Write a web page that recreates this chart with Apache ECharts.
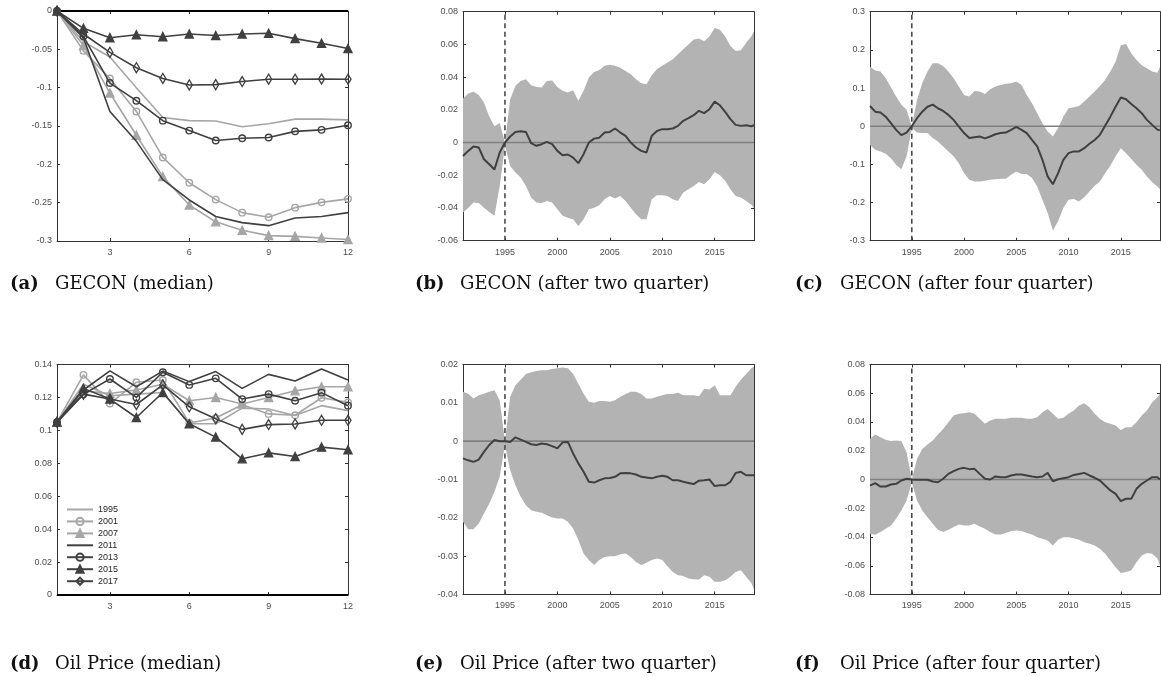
<!DOCTYPE html>
<html>
<head>
<meta charset="utf-8">
<script src="https://cdn.jsdelivr.net/npm/echarts@6/dist/echarts.min.js"></script>
<style>
  html, body { margin: 0; padding: 0; background: #ffffff; }
  #chart { width: 1161px; height: 676px; }
</style>
</head>
<body>
<div id="chart"></div>
<script>
// ---------- impulse-response medians by vintage (horizon 1..12) ----------
var horizons = [1, 2, 3, 4, 5, 6, 7, 8, 9, 10, 11, 12];
var vintages = ['1995', '2001', '2007', '2011', '2013', '2015', '2017'];

var gecon1995 = [0, -0.040, -0.060, -0.100, -0.139, -0.143, -0.1435, -0.151, -0.147, -0.141, -0.141, -0.142];
var gecon2001 = [0, -0.052, -0.088, -0.131, -0.191, -0.224, -0.246, -0.263, -0.269, -0.2565, -0.2496, -0.245];
var gecon2007 = [0, -0.045, -0.107, -0.162, -0.216, -0.253, -0.275, -0.286, -0.293, -0.294, -0.296, -0.298];
var gecon2011 = [0, -0.035, -0.131, -0.170, -0.220, -0.2465, -0.268, -0.276, -0.280, -0.270, -0.268, -0.263];
var gecon2013 = [0, -0.033, -0.094, -0.117, -0.143, -0.156, -0.169, -0.166, -0.165, -0.157, -0.155, -0.149];
var gecon2015 = [0, -0.0226, -0.0348, -0.031, -0.0335, -0.030, -0.032, -0.030, -0.029, -0.036, -0.042, -0.049];
var gecon2017 = [0, -0.030, -0.054, -0.074, -0.088, -0.0965, -0.096, -0.092, -0.089, -0.089, -0.0887, -0.089];

var oil1995 = [0.105, 0.128, 0.121, 0.122, 0.123, 0.104, 0.104, 0.1135, 0.113, 0.109, 0.115, 0.112];
var oil2001 = [0.105, 0.1337, 0.1163, 0.1292, 0.1306, 0.1045, 0.1075, 0.1155, 0.110, 0.1092, 0.1198, 0.117];
var oil2007 = [0.105, 0.124, 0.1224, 0.1245, 0.128, 0.118, 0.120, 0.116, 0.120, 0.124, 0.1265, 0.1265];
var oil2011 = [0.105, 0.1245, 0.1361, 0.1265, 0.136, 0.1296, 0.1357, 0.1255, 0.134, 0.130, 0.1373, 0.1306];
var oil2013 = [0.105, 0.122, 0.1312, 0.120, 0.1353, 0.1276, 0.1316, 0.119, 0.122, 0.118, 0.1229, 0.115];
var oil2015 = [0.105, 0.1255, 0.119, 0.1078, 0.123, 0.104, 0.0959, 0.0827, 0.0863, 0.0841, 0.0898, 0.0882];
var oil2017 = [0.105, 0.122, 0.119, 0.1157, 0.1276, 0.1143, 0.1071, 0.1006, 0.1035, 0.1039, 0.1061, 0.1061];

var horizonTicks = [3, 6, 9, 12];

// ---------- time-varying responses with credible bands ----------
var years = [
  1991, 1991.5, 1992, 1992.5, 1993, 1993.5, 1994, 1994.5, 1995, 1995.5,
  1996, 1996.5, 1997, 1997.5, 1998, 1998.5, 1999, 1999.5, 2000, 2000.5,
  2001, 2001.5, 2002, 2002.5, 2003, 2003.5, 2004, 2004.5, 2005, 2005.5,
  2006, 2006.5, 2007, 2007.5, 2008, 2008.5, 2009, 2009.5, 2010, 2010.5,
  2011, 2011.5, 2012, 2012.5, 2013, 2013.5, 2014, 2014.5, 2015, 2015.5,
  2016, 2016.5, 2017, 2017.5, 2018, 2018.5, 2018.75
];
var yearTicks = [1995, 2000, 2005, 2010, 2015];
var breakYear = 1995;

// GECON, two quarters ahead
var geconQ2Upper = [
  0.027, 0.030, 0.031, 0.029, 0.0245, 0.016, 0.010, 0.012, 0.000, 0.0265,
  0.0347, 0.0377, 0.0387, 0.035, 0.034, 0.0336, 0.0377, 0.038, 0.034, 0.0316,
  0.0306, 0.032, 0.0255, 0.0316, 0.0397, 0.0432, 0.0444, 0.0469, 0.0475, 0.047,
  0.0457, 0.0438, 0.0418, 0.0387, 0.0363, 0.0357, 0.0412, 0.0449, 0.0469, 0.049,
  0.051, 0.054, 0.057, 0.060, 0.063, 0.0636, 0.062, 0.0648, 0.070, 0.069,
  0.065, 0.059, 0.056, 0.0564, 0.061, 0.065, 0.068
];
var geconQ2Lower = [
  -0.0428, -0.040, -0.0367, -0.037, -0.0398, -0.0424, -0.0448, -0.0265, -0.002, -0.0143,
  -0.0183, -0.0214, -0.0265, -0.0336, -0.0367, -0.037, -0.0357, -0.0367, -0.0408, -0.0448,
  -0.0459, -0.0469, -0.051, -0.0469, -0.0408, -0.0398, -0.0383, -0.0347, -0.0326, -0.0342,
  -0.0326, -0.0357, -0.0398, -0.0438, -0.0469, -0.0469, -0.0347, -0.0322, -0.0322, -0.0326,
  -0.0347, -0.0357, -0.0306, -0.0285, -0.0265, -0.0241, -0.0255, -0.0224, -0.018, -0.020,
  -0.0234, -0.0285, -0.0326, -0.0336, -0.0357, -0.038, -0.040
];
var geconQ2Median = [
  -0.0082, -0.0051, -0.0024, -0.003, -0.0102, -0.0133, -0.0165, -0.0061, 0, 0.0037,
  0.0065, 0.0069, 0.0065, -0.0004, -0.002, -0.001, 0.0004, -0.001, -0.0051, -0.0077,
  -0.0073, -0.0092, -0.0126, -0.0071, 0, 0.0024, 0.003, 0.0061, 0.0065, 0.0086,
  0.0061, 0.0041, 0, -0.003, -0.0051, -0.0061, 0.0041, 0.0071, 0.0082, 0.0082,
  0.0086, 0.0102, 0.0133, 0.0149, 0.0167, 0.0194, 0.018, 0.0204, 0.025, 0.0228,
  0.0188, 0.0143, 0.0108, 0.0102, 0.0106, 0.0100, 0.0106
];

// GECON, four quarters ahead
var geconQ4Upper = [
  0.156, 0.146, 0.143, 0.1255, 0.102, 0.0776, 0.056, 0.043, 0.000, 0.069,
  0.1125, 0.143, 0.165, 0.165, 0.158, 0.143, 0.1255, 0.104, 0.082, 0.0776,
  0.0924, 0.0907, 0.0846, 0.0968, 0.104, 0.108, 0.111, 0.1125, 0.117, 0.108,
  0.082, 0.060, 0.034, 0.0078, -0.014, -0.027, -0.005, 0.025, 0.047, 0.0497,
  0.053, 0.0645, 0.0776, 0.0907, 0.1055, 0.121, 0.143, 0.169, 0.212, 0.2155,
  0.191, 0.1735, 0.160, 0.152, 0.143, 0.140, 0.156
];
var geconQ4Lower = [
  -0.049, -0.062, -0.066, -0.072, -0.084, -0.101, -0.1125, -0.079, -0.005, -0.0166,
  -0.018, -0.018, -0.031, -0.040, -0.053, -0.066, -0.079, -0.097, -0.123, -0.140,
  -0.145, -0.145, -0.143, -0.140, -0.139, -0.138, -0.138, -0.127, -0.1186, -0.125,
  -0.125, -0.136, -0.158, -0.193, -0.2275, -0.273, -0.249, -0.2145, -0.193, -0.191,
  -0.197, -0.186, -0.171, -0.156, -0.1447, -0.123, -0.1037, -0.079, -0.0575, -0.0706,
  -0.086, -0.101, -0.114, -0.1316, -0.147, -0.158, -0.165
];
var geconQ4Median = [
  0.053, 0.038, 0.036, 0.025, 0.0078, -0.0096, -0.0235, -0.0166, 0, 0.021,
  0.038, 0.051, 0.0567, 0.047, 0.040, 0.0296, 0.0166, -0.001, -0.018, -0.031,
  -0.0288, -0.027, -0.032, -0.027, -0.021, -0.018, -0.0166, -0.0096, -0.002, -0.0096,
  -0.018, -0.036, -0.053, -0.088, -0.1316, -0.152, -0.123, -0.088, -0.0706, -0.066,
  -0.066, -0.0575, -0.046, -0.036, -0.0227, 0.001, 0.025, 0.051, 0.075, 0.0706,
  0.058, 0.047, 0.034, 0.0166, 0.0035, -0.009, -0.011
];

// Oil price, two quarters ahead
var oilQ2Upper = [
  0.0129, 0.0124, 0.0111, 0.012, 0.0124, 0.0129, 0.0133, 0.0107, 0.000, 0.0116,
  0.0146, 0.016, 0.0175, 0.018, 0.0183, 0.0185, 0.0185, 0.0188, 0.019, 0.0192,
  0.019, 0.0175, 0.015, 0.0124, 0.0103, 0.010, 0.0105, 0.0105, 0.0103, 0.0107,
  0.0116, 0.0123, 0.0129, 0.0129, 0.0123, 0.0111, 0.0111, 0.0116, 0.012, 0.0123,
  0.0123, 0.0126, 0.012, 0.012, 0.012, 0.0117, 0.0137, 0.0135, 0.0146, 0.012,
  0.012, 0.012, 0.0142, 0.016, 0.0175, 0.019, 0.0195
];
var oilQ2Lower = [
  -0.021, -0.023, -0.023, -0.0215, -0.0189, -0.0163, -0.0132, -0.0093, -0.001, -0.0076,
  -0.0115, -0.0145, -0.0167, -0.018, -0.0184, -0.0187, -0.0193, -0.0199, -0.0202, -0.0202,
  -0.021, -0.0228, -0.0258, -0.0293, -0.031, -0.0323, -0.031, -0.0302, -0.030, -0.030,
  -0.0295, -0.0293, -0.0302, -0.0315, -0.0323, -0.0317, -0.031, -0.0306, -0.031, -0.0326,
  -0.0341, -0.035, -0.0352, -0.0358, -0.036, -0.0361, -0.035, -0.0354, -0.0367, -0.0367,
  -0.0363, -0.0354, -0.0341, -0.0337, -0.0354, -0.037, -0.0387
];
var oilQ2Median = [
  -0.0045, -0.005, -0.0054, -0.0048, -0.0028, -0.001, 0.0003, 0, 0, -0.0002,
  0.001, 0.0004, -0.0002, -0.0008, -0.001, -0.0006, -0.0008, -0.0013, -0.0019, -0.0003,
  -0.0002, -0.0032, -0.0058, -0.008, -0.0106, -0.0108, -0.0102, -0.0097, -0.0096, -0.0093,
  -0.0084, -0.0083, -0.0084, -0.0087, -0.0093, -0.0095, -0.0097, -0.0093, -0.009, -0.0093,
  -0.0102, -0.0102, -0.0106, -0.0109, -0.0112, -0.0103, -0.0102, -0.010, -0.0117, -0.0115,
  -0.0115, -0.0106, -0.0083, -0.008, -0.0089, -0.0089, -0.0089
];

// Oil price, four quarters ahead
var oilQ4Upper = [
  0.0283, 0.0313, 0.0294, 0.0276, 0.0267, 0.0271, 0.0267, 0.019, 0.000, 0.0144,
  0.0213, 0.0243, 0.0271, 0.0313, 0.0352, 0.0399, 0.0445, 0.0457, 0.0461, 0.0468,
  0.0457, 0.0422, 0.0387, 0.041, 0.0422, 0.0422, 0.0422, 0.0429, 0.0429, 0.0429,
  0.0422, 0.0422, 0.0433, 0.0468, 0.0491, 0.0457, 0.0422, 0.0429, 0.0457, 0.048,
  0.0515, 0.0531, 0.0503, 0.0457, 0.0422, 0.0399, 0.0387, 0.0375, 0.0345, 0.0364,
  0.0364, 0.0399, 0.0445, 0.048, 0.0538, 0.057, 0.0596
];
var oilQ4Lower = [
  -0.0378, -0.0385, -0.0366, -0.0343, -0.032, -0.0273, -0.0216, -0.0146, -0.002, -0.0146,
  -0.0216, -0.0262, -0.0308, -0.035, -0.0366, -0.035, -0.0331, -0.0313, -0.032, -0.032,
  -0.0308, -0.0327, -0.0343, -0.0366, -0.0382, -0.0382, -0.0373, -0.0359, -0.0355, -0.0359,
  -0.0373, -0.0382, -0.0401, -0.0413, -0.0424, -0.0459, -0.0419, -0.0401, -0.0401, -0.0408,
  -0.0419, -0.0436, -0.0447, -0.0459, -0.0482, -0.0517, -0.0563, -0.061, -0.0651, -0.0644,
  -0.0633, -0.0575, -0.0528, -0.0512, -0.0517, -0.055, -0.0598
];
var oilQ4Median = [
  -0.0042, -0.0025, -0.0049, -0.0049, -0.0035, -0.003, -0.0007, 0.0005, 0, -0.0002,
  -0.0002, -0.0002, -0.0014, -0.0019, 0.0005, 0.0039, 0.0058, 0.0074, 0.0081, 0.0072,
  0.0074, 0.0039, 0.0005, 0, 0.0021, 0.0016, 0.0016, 0.0028, 0.0035, 0.0035,
  0.0028, 0.0021, 0.0016, 0.0021, 0.0046, -0.0012, 0.0002, 0.0009, 0.0016, 0.0032,
  0.0039, 0.0046, 0.0028, 0.0012, -0.0007, -0.0042, -0.0076, -0.010, -0.015, -0.0134,
  -0.0134, -0.0065, -0.003, -0.0007, 0.0016, 0.0015, 0
];

// ---------- styling ----------
var LIGHT = '#a6a6a6';
var DARK = '#404040';
var BAND = '#b3b3b3';
var AXIS = '#333333';
var LABEL = '#4d4d4d';

// plain lines carry an invisible marker so their legend entry shows only the line
var vintageStyle = {
  '1995': { color: LIGHT, symbol: 'circle', plain: true },
  '2001': { color: LIGHT, symbol: 'circle' },
  '2007': { color: LIGHT, symbol: 'triangle' },
  '2011': { color: DARK, symbol: 'circle', plain: true },
  '2013': { color: DARK, symbol: 'circle' },
  '2015': { color: DARK, symbol: 'triangle' },
  '2017': { color: DARK, symbol: 'diamond' }
};

var grids = [
  { left: 57, top: 11, width: 291, height: 230 },     // (a)
  { left: 463, top: 11.7, width: 291, height: 229 },  // (b)
  { left: 870, top: 11.7, width: 290, height: 229 },  // (c)
  { left: 57, top: 364.5, width: 291, height: 230.5 },// (d)
  { left: 463, top: 364.5, width: 291, height: 230 }, // (e)
  { left: 870, top: 364.5, width: 290, height: 230 }  // (f)
];

var xAxes = [];
var yAxes = [];

function plainNumber(v) { return String(v); }

function addBox(g, xmin, xmax, xticks, ymin, ymax, yint) {
  var line = { show: true, onZero: false, lineStyle: { color: AXIS, width: 1 } };
  var tick = function (vals) {
    var t = { show: true, inside: true, length: 3, lineStyle: { color: AXIS, width: 1 } };
    if (vals) t.customValues = vals;
    return t;
  };
  xAxes.push({
    gridIndex: g, type: 'value', position: 'bottom', min: xmin, max: xmax,
    axisLine: line, axisTick: tick(xticks),
    axisLabel: { customValues: xticks, formatter: plainNumber, color: LABEL, fontSize: 9, margin: 7, fontFamily: 'Liberation Sans' },
    splitLine: { show: false }
  });
  xAxes.push({
    gridIndex: g, type: 'value', position: 'top', min: xmin, max: xmax,
    axisLine: line, axisTick: tick(xticks), axisLabel: { show: false, customValues: xticks },
    splitLine: { show: false }
  });
  yAxes.push({
    gridIndex: g, type: 'value', position: 'left', min: ymin, max: ymax, interval: yint,
    axisLine: line, axisTick: tick(null),
    axisLabel: { color: LABEL, fontSize: 9, margin: 5, fontFamily: 'Liberation Sans' },
    splitLine: { show: false }
  });
  yAxes.push({
    gridIndex: g, type: 'value', position: 'right', min: ymin, max: ymax, interval: yint,
    axisLine: line, axisTick: tick(null), axisLabel: { show: false },
    splitLine: { show: false }
  });
}

addBox(0, 1, 12, horizonTicks, -0.3, 0, 0.05);
addBox(1, 1991, 2018.75, yearTicks, -0.06, 0.08, 0.02);
addBox(2, 1991, 2018.75, yearTicks, -0.3, 0.3, 0.1);
addBox(3, 1, 12, horizonTicks, 0, 0.14, 0.02);
addBox(4, 1991, 2018.75, yearTicks, -0.04, 0.02, 0.01);
addBox(5, 1991, 2018.75, yearTicks, -0.08, 0.08, 0.02);

function pairs(xs, ys) {
  return xs.map(function (x, i) { return [x, ys[i]]; });
}

var series = [];

function addVintages(g, valuesByVintage, zeroVal) {
  // reference line at zero
  series.push({
    type: 'line', xAxisIndex: 2 * g, yAxisIndex: 2 * g,
    data: [[horizons[0], zeroVal], [horizons[horizons.length - 1], zeroVal]],
    symbol: 'none', lineStyle: { color: '#000000', width: 2.2 }, silent: true, z: 2
  });
  vintages.forEach(function (v, k) {
    var st = vintageStyle[v];
    var sym = st.symbol;
    var size = sym === 'triangle' ? 8 : (sym === 'diamond' ? [6, 10] : 6.5);
    var fill = st.plain ? 'rgba(0,0,0,0)' : (sym === 'triangle' ? st.color : 'rgba(255,255,255,0)');
    series.push({
      name: v, type: 'line', xAxisIndex: 2 * g, yAxisIndex: 2 * g,
      data: pairs(horizons, valuesByVintage[k]),
      symbol: sym, symbolSize: size, showSymbol: !st.plain,
      lineStyle: { color: st.color, width: 1.6 },
      itemStyle: {
        color: fill,
        borderColor: st.plain ? 'rgba(0,0,0,0)' : st.color,
        borderWidth: st.plain ? 0 : 1.4
      },
      z: 3 + k
    });
  });
}

addVintages(0, [gecon1995, gecon2001, gecon2007, gecon2011, gecon2013, gecon2015, gecon2017], 0);
addVintages(3, [oil1995, oil2001, oil2007, oil2011, oil2013, oil2015, oil2017], 0);

function addBandPanel(g, lo, hi, med, ymin, ymax) {
  var xi = 2 * g, yi = 2 * g;
  series.push({
    type: 'custom', xAxisIndex: xi, yAxisIndex: yi, silent: true, clip: true, z: 1,
    data: years.map(function (y, i) { return [y, lo[i], hi[i]]; }),
    encode: { x: 0, y: [1, 2] },
    renderItem: function (params, api) {
      if (params.dataIndex !== 0) return null;
      var pts = [];
      for (var i = 0; i < years.length; i++) pts.push(api.coord([years[i], hi[i]]));
      for (var j = years.length - 1; j >= 0; j--) pts.push(api.coord([years[j], lo[j]]));
      return { type: 'polygon', shape: { points: pts }, style: { fill: BAND } };
    }
  });
  series.push({
    type: 'line', xAxisIndex: xi, yAxisIndex: yi, silent: true, z: 2,
    data: [[years[0], 0], [years[years.length - 1], 0]],
    symbol: 'none', lineStyle: { color: '#808080', width: 1.6 }
  });
  series.push({
    type: 'line', xAxisIndex: xi, yAxisIndex: yi, silent: true, z: 3,
    data: pairs(years, med), symbol: 'none',
    lineStyle: { color: DARK, width: 2 }
  });
  series.push({
    type: 'line', xAxisIndex: xi, yAxisIndex: yi, silent: true, z: 4,
    data: [[breakYear, ymin], [breakYear, ymax]], symbol: 'none',
    lineStyle: { color: DARK, width: 1.5, type: [5, 3.5] }
  });
}

addBandPanel(1, geconQ2Lower, geconQ2Upper, geconQ2Median, -0.06, 0.08);
addBandPanel(2, geconQ4Lower, geconQ4Upper, geconQ4Median, -0.3, 0.3);
addBandPanel(4, oilQ2Lower, oilQ2Upper, oilQ2Median, -0.04, 0.02);
addBandPanel(5, oilQ4Lower, oilQ4Upper, oilQ4Median, -0.08, 0.08);

// sub-figure captions
var captions = [
  { tag: '(a)', text: 'GECON (median)', x: 10, y: 284 },
  { tag: '(b)', text: 'GECON (after two quarter)', x: 415, y: 284 },
  { tag: '(c)', text: 'GECON (after four quarter)', x: 795, y: 284 },
  { tag: '(d)', text: 'Oil Price (median)', x: 10, y: 664 },
  { tag: '(e)', text: 'Oil Price (after two quarter)', x: 415, y: 664 },
  { tag: '(f)', text: 'Oil Price (after four quarter)', x: 795, y: 664 }
];
var graphics = [];
captions.forEach(function (c) {
  graphics.push({
    type: 'text', x: c.x, y: c.y, silent: true,
    style: { text: c.tag, fontFamily: 'DejaVu Serif', fontWeight: 'bold', fontSize: 18,
             fill: '#111111', verticalAlign: 'middle', align: 'left' }
  });
  graphics.push({
    type: 'text', x: c.x + 45, y: c.y, silent: true,
    style: { text: c.text, fontFamily: 'DejaVu Serif', fontSize: 18,
             fill: '#111111', verticalAlign: 'middle', align: 'left' }
  });
});

var chart = echarts.init(document.getElementById('chart'), null, { renderer: 'canvas' });
chart.setOption({
  animation: false,
  backgroundColor: '#ffffff',
  textStyle: { fontFamily: 'Liberation Sans' },
  grid: grids.map(function (g) {
    return { left: g.left, top: g.top, width: g.width, height: g.height, containLabel: false, outerBoundsMode: 'none' };
  }),
  xAxis: xAxes,
  yAxis: yAxes,
  legend: {
    data: vintages, orient: 'vertical', left: 66, top: 505,
    itemWidth: 26, itemHeight: 9, itemGap: 2.8, padding: 0, selectedMode: false,
    textStyle: { fontSize: 9, lineHeight: 9, color: '#262626', fontFamily: 'Liberation Sans' }
  },
  graphic: graphics,
  series: series
});
</script>
</body>
</html>
